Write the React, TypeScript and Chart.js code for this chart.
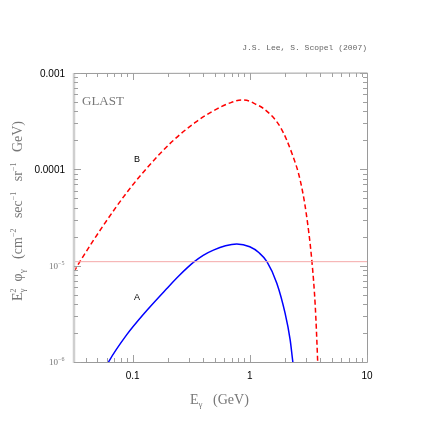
import React, { useEffect, useRef } from "react";
import { Chart, registerables } from "chart.js";

Chart.register(...registerables);

// ---- data ----
const curveAx = [0.061, 0.0626, 0.0889, 0.132, 0.195, 0.25, 0.33, 0.4, 0.489, 0.62, 0.774, 1.0, 1.2, 1.4, 1.7, 2.0, 2.21, 2.33, 2.36];
const curveAy = [9.5e-7, 1.01e-6, 1.91e-6, 3.42e-6, 5.75e-6, 7.9e-6, 1.08e-5, 1.28e-5, 1.45e-5, 1.61e-5, 1.68e-5, 1.57e-5, 1.36e-5, 1.1e-5, 6.58e-6, 3.21e-6, 1.7e-6, 1.0e-6, 9e-7];

const curveBx = [0.0316, 0.0355, 0.0561, 0.0917, 0.136, 0.215, 0.34, 0.473, 0.68, 0.85, 1.0, 1.1, 1.31, 1.82, 2.29, 2.69, 3.03, 3.39, 3.62, 3.79, 3.82];
const curveBy = [8.67e-6, 1.1e-5, 2.6e-5, 6.0e-5, 1.07e-4, 1.92e-4, 3.05e-4, 3.96e-4, 4.9e-4, 5.25e-4, 5.09e-4, 4.8e-4, 4.28e-4, 2.75e-4, 1.46e-4, 7.73e-5, 3.49e-5, 1.1e-5, 3.76e-6, 1.05e-6, 8e-7];

const glastLevel = 1.1e-5;

const xTickValues = [0.1, 1, 10];
const xTickLabels = ["0.1", "1", "10"];
const yTickValues = [1e-3, 1e-4, 1e-5, 1e-6];
const yTickLabels = ["0.001", "0.0001", "10^−5", "10^−6"];

const xMin = Math.pow(10, -1.5);
const xMax = 10;
const yMin = 1e-6;
const yMax = 1e-3;

const curveLabels = [
  { text: "B", x: 0.1, y: 1.2e-4 },
  { text: "A", x: 0.1, y: 4.4e-6 },
];

type Part = { t: string; size: number; dy?: number; stackWith?: Part };

function drawParts(ctx: CanvasRenderingContext2D, parts: Part[], family: string, startX: number, baseY: number) {
  let x = startX;
  for (const p of parts) {
    ctx.font = `${p.size}px ${family}`;
    ctx.fillText(p.t, x, baseY + (p.dy || 0));
    let w = ctx.measureText(p.t).width;
    if (p.stackWith) {
      const q = p.stackWith;
      ctx.font = `${q.size}px ${family}`;
      ctx.fillText(q.t, x, baseY + (q.dy || 0));
      w = Math.max(w, ctx.measureText(q.t).width);
    }
    x += w;
  }
  return x - startX;
}

function measureParts(ctx: CanvasRenderingContext2D, parts: Part[], family: string) {
  let total = 0;
  for (const p of parts) {
    ctx.font = `${p.size}px ${family}`;
    let w = ctx.measureText(p.t).width;
    if (p.stackWith) {
      ctx.font = `${p.stackWith.size}px ${family}`;
      w = Math.max(w, ctx.measureText(p.stackWith.t).width);
    }
    total += w;
  }
  return total;
}

const framePlugin = {
  id: "framePlugin",
  afterDraw(chart: any) {
    const ctx: CanvasRenderingContext2D = chart.ctx;
    const { left, right, top, bottom } = chart.chartArea;
    const xs = chart.scales.x;
    const ys = chart.scales.y;
    ctx.save();

    // frame
    ctx.strokeStyle = "#9a9a9a";
    ctx.lineWidth = 1;
    ctx.beginPath();
    ctx.moveTo(left, bottom + 0.5);
    ctx.lineTo(right + 0.5, bottom + 0.5);
    ctx.lineTo(right + 0.5, top);
    ctx.lineTo(left, top + 0.5);
    ctx.stroke();
    ctx.strokeStyle = "#cfcfcf";
    ctx.lineWidth = 2.5;
    ctx.beginPath();
    ctx.moveTo(left, top);
    ctx.lineTo(left, bottom + 1);
    ctx.stroke();

    // x ticks
    ctx.strokeStyle = "#a0a0a0";
    ctx.lineWidth = 1;
    for (let d = -2; d <= 1; d++) {
      for (let m = 1; m <= 9; m++) {
        const v = m * Math.pow(10, d);
        if (v < xMin * 0.999 || v > xMax * 1.001) continue;
        const px = Math.round(xs.getPixelForValue(v)) + 0.5;
        const len = m === 1 ? 7 : 4;
        ctx.beginPath();
        ctx.moveTo(px, bottom);
        ctx.lineTo(px, bottom - len);
        ctx.moveTo(px, top);
        ctx.lineTo(px, top + len);
        ctx.stroke();
      }
    }
    // y ticks
    for (let d = -6; d <= -3; d++) {
      for (let m = 1; m <= 9; m++) {
        const v = m * Math.pow(10, d);
        if (v < yMin * 0.999 || v > yMax * 1.001) continue;
        const py = Math.round(ys.getPixelForValue(v)) + 0.5;
        const len = m === 1 ? 7 : 4;
        ctx.beginPath();
        ctx.moveTo(left, py);
        ctx.lineTo(left + len, py);
        ctx.moveTo(right, py);
        ctx.lineTo(right - len, py);
        ctx.stroke();
      }
    }

    // x tick labels
    ctx.fillStyle = "#000";
    ctx.font = "10px 'Liberation Sans', Arial, sans-serif";
    ctx.textAlign = "center";
    ctx.textBaseline = "alphabetic";
    xTickValues.forEach((v, i) => {
      ctx.fillText(xTickLabels[i], xs.getPixelForValue(v), bottom + 17);
    });

    // y tick labels
    yTickValues.forEach((v, i) => {
      const py = ys.getPixelForValue(v);
      const lab = yTickLabels[i];
      if (lab.includes("^")) {
        const [base, exp] = lab.split("^");
        ctx.fillStyle = "#777";
        ctx.textAlign = "left";
        const parts: Part[] = [
          { t: base, size: 9 },
          { t: exp, size: 6, dy: -4 },
        ];
        drawParts(ctx, parts, "'Liberation Serif', serif", 49, py + 3);
      } else {
        ctx.fillStyle = "#000";
        ctx.textAlign = "right";
        ctx.font = "10px 'Liberation Sans', Arial, sans-serif";
        ctx.fillText(lab, 65, py + 3.5);
      }
    });

    // curve labels
    ctx.fillStyle = "#000";
    ctx.textAlign = "center";
    ctx.font = "9px 'Liberation Sans', Arial, sans-serif";
    curveLabels.forEach((c) => {
      ctx.fillText(c.text, xs.getPixelForValue(c.x) + 4.5, ys.getPixelForValue(c.y));
    });

    // GLAST
    ctx.fillStyle = "#777";
    ctx.textAlign = "left";
    ctx.font = "13px 'Liberation Serif', serif";
    ctx.fillText("GLAST", 82, 105);

    // author note
    ctx.fillStyle = "#666";
    ctx.textAlign = "right";
    ctx.font = "8px 'Liberation Mono', monospace";
    ctx.fillText("J.S. Lee, S. Scopel (2007)", 367, 50);

    // x title
    ctx.fillStyle = "#777";
    ctx.textAlign = "left";
    const serif = "'Liberation Serif', serif";
    const xt: Part[] = [
      { t: "E", size: 14 },
      { t: "γ", size: 9, dy: 3 },
      { t: "   (GeV)", size: 14 },
    ];
    drawParts(ctx, xt, serif, 190, 404);

    // y title (rotated)
    const yt: Part[] = [
      { t: "E", size: 14 },
      { t: "2", size: 8, dy: -6, stackWith: { t: "γ", size: 9, dy: 3 } },
      { t: "  φ", size: 14 },
      { t: "γ", size: 9, dy: 3 },
      { t: "   (cm", size: 14 },
      { t: "−2", size: 8, dy: -6 },
      { t: "   sec", size: 14 },
      { t: "−1", size: 8, dy: -6 },
      { t: "   sr", size: 14 },
      { t: "−1", size: 8, dy: -6 },
      { t: "   GeV)", size: 14 },
    ];
    const tw = measureParts(ctx, yt, serif);
    ctx.translate(22, 211);
    ctx.rotate(-Math.PI / 2);
    drawParts(ctx, yt, serif, -tw / 2, 0);

    ctx.restore();
  },
};

export default function App() {
  const ref = useRef<HTMLCanvasElement | null>(null);
  useEffect(() => {
    if (!ref.current) return;
    const chart = new Chart(ref.current, {
      type: "scatter",
      data: {
        datasets: [
          {
            label: "GLAST",
            data: [
              { x: xMin, y: glastLevel },
              { x: xMax, y: glastLevel },
            ],
            showLine: true,
            borderColor: "#f5a8a8",
            borderWidth: 1,
            pointRadius: 0,
          },
          {
            label: "B",
            data: curveBx.map((x, i) => ({ x, y: curveBy[i] })),
            showLine: true,
            borderColor: "#ff0000",
            borderWidth: 1.5,
            borderDash: [5, 3],
            pointRadius: 0,
            cubicInterpolationMode: "monotone",
          },
          {
            label: "A",
            data: curveAx.map((x, i) => ({ x, y: curveAy[i] })),
            showLine: true,
            borderColor: "#0000ff",
            borderWidth: 1.5,
            pointRadius: 0,
            cubicInterpolationMode: "monotone",
          },
        ],
      },
      options: {
        animation: false,
        responsive: false,
        devicePixelRatio: 1,
        layout: { padding: { left: 74, right: 69, top: 73, bottom: 74 } },
        plugins: { legend: { display: false }, tooltip: { enabled: false }, title: { display: false } },
        scales: {
          x: { type: "logarithmic", min: xMin, max: xMax, display: false },
          y: { type: "logarithmic", min: yMin, max: yMax, display: false },
        },
      },
      plugins: [framePlugin],
    });
    return () => chart.destroy();
  }, []);
  return (
    <div style={{ position: "absolute", left: 0, top: 0, width: 436, height: 436, background: "#fff" }}>
      <canvas ref={ref} width={436} height={436} />
    </div>
  );
}
